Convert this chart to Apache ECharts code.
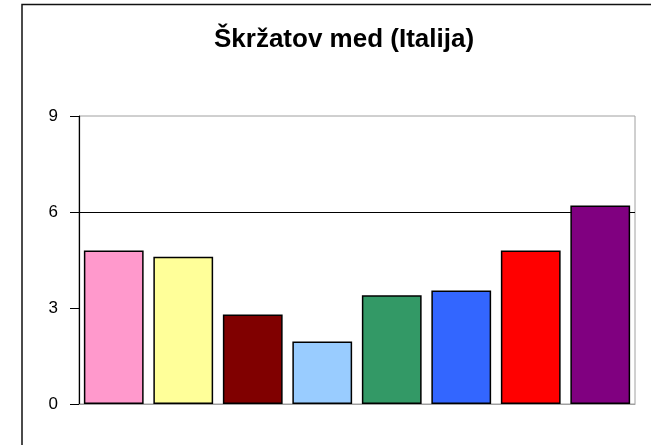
<!DOCTYPE html>
<html>
<head>
<meta charset="utf-8">
<script src="https://cdn.jsdelivr.net/npm/echarts@6/dist/echarts.min.js"></script>
<style>html,body{margin:0;padding:0;background:#fff;}#c{width:651px;height:445px;}</style>
</head>
<body>
<div id="c"></div>
<script>
var titleText = 'Škržatov med (Italija)';
var categories = ['1', '2', '3', '4', '5', '6', '7', '8'];
var values = [4.8, 4.6, 2.8, 1.95, 3.4, 3.55, 4.8, 6.2];
var barColors = ['#FF99CC', '#FFFF99', '#800000', '#99CCFF', '#339966', '#3366FF', '#FF0000', '#800080'];
var yTicks = [0, 3, 6, 9];

var chart = echarts.init(document.getElementById('c'), null, {renderer: 'canvas'});
chart.setOption({
  animation: false,
  backgroundColor: '#fff',
  title: {
    text: titleText,
    left: 339, textAlign: 'center', top: 22,
    textStyle: {fontFamily: 'Liberation Sans, Arial, sans-serif', fontSize: 26, fontWeight: 'bold', color: '#000'}
  },
  graphic: [{
    type: 'rect', shape: {x: 22, y: 4.5, width: 700, height: 500},
    style: {fill: 'none', stroke: '#111', lineWidth: 1.5}, silent: true, z: 0
  }],
  grid: {left: 79, top: 116, right: 16, bottom: 41, show: true, borderColor: '#a0a0a0', borderWidth: 1, backgroundColor: 'transparent'},
  xAxis: {
    type: 'category', data: categories,
    axisLine: {show: true, lineStyle: {color: '#a0a0a0', width: 1}},
    axisTick: {show: false}, axisLabel: {show: false}, splitLine: {show: false}
  },
  yAxis: {
    type: 'value', min: yTicks[0], max: yTicks[yTicks.length - 1], interval: 3,
    axisLine: {show: true, lineStyle: {color: '#000', width: 1.2}},
    axisTick: {show: true, length: 9, lineStyle: {color: '#000', width: 1}},
    axisLabel: {margin: 21, color: '#000', fontSize: 17, fontFamily: 'Liberation Sans, Arial, sans-serif',
      formatter: function (v) { return yTicks.indexOf(v) >= 0 ? String(v) : ''; }},
    splitLine: {show: true, lineStyle: {color: ['transparent', 'transparent', '#000', 'transparent'], width: 1.2}}
  },
  series: [{
    type: 'bar',
    barCategoryGap: '14%',
    data: values.map(function (v, i) {
      return {value: v, itemStyle: {color: barColors[i], borderColor: '#000', borderWidth: 1.5}};
    })
  }]
});
</script>
</body>
</html>
